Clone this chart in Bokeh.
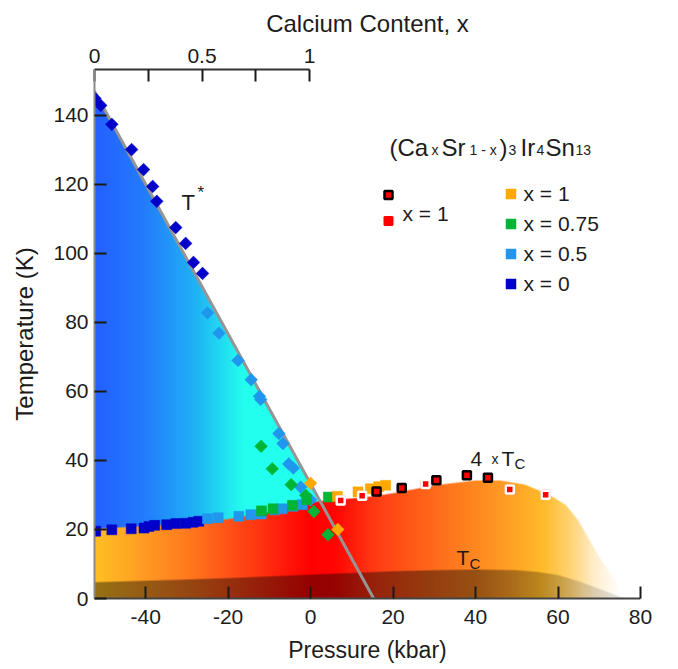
import numpy as np
from bokeh.plotting import figure
from bokeh.models import (Range1d, LinearAxis, FixedTicker, Legend, LegendItem, Label,
                          CustomJSTickFormatter)
from bokeh.core.properties import value
from bokeh.embed import file_html
from bokeh.resources import INLINE

# ---------------- data ----------------
# T* line (gray)
tstar_P = [-52.4, 15.3]
tstar_T = [147.0, 0.0]

# upper boundary of the superconducting-dome / red region (4 x Tc)
red_top_P = [-52.4, -40, -30, -20, -10, -5, 0, 5, 10, 15, 20, 30, 40, 46, 52, 58, 62, 65, 68.8, 71.3, 73.5, 75.5, 77.5]
red_top_T = [20.2, 21.0, 21.8, 23.0, 25.0, 26.5, 27.8, 28.6, 29.0, 29.6, 30.5, 32.8, 34.2, 34.2, 33.0, 30.0, 27.0, 22.5, 14.5, 9.6, 6.0, 3.0, 0.0]

# Tc dome (dark band)
tc_top_P = [-52.4, -30, -20, -10, 0, 10, 20, 30, 40, 50, 55, 60, 65, 70, 74, 76]
tc_top_T = [4.7, 5.5, 5.9, 6.4, 6.9, 7.4, 7.9, 8.2, 8.4, 8.2, 7.7, 6.8, 5.0, 2.8, 1.0, 0.0]

# x = 0 (dark blue)
x0_dia_P = [-52.3, -50.9, -48.2, -43.4, -40.5, -38.3, -37.3, -32.7, -30.3, -28.4, -26.2]
x0_dia_T = [144.9, 142.9, 137.4, 130.1, 124.3, 119.4, 115.1, 107.5, 102.9, 97.4, 94.2]
x0_sq_P = [-52.1, -48.2, -43.5, -40.4, -39.2, -37.8, -34.9, -32.7, -30.3, -28.5, -27.1]
x0_sq_T = [19.5, 19.9, 20.2, 20.4, 20.9, 21.2, 21.4, 21.7, 21.8, 22.1, 22.4]

# x = 0.5 (light blue)
x05_dia_P = [-25.0, -22.2, -17.6, -14.4, -12.4, -12.1, -7.7, -6.7, -5.3, -4.2, -2.4, 0.0]
x05_dia_T = [82.8, 76.9, 69.0, 63.4, 58.6, 57.7, 47.8, 44.9, 39.0, 37.8, 32.3, 28.6]
x05_sq_P = [-25.0, -22.4, -17.4, -14.5, -12.0, -8.7, -6.9, -4.3, -2.0]
x05_sq_T = [23.1, 23.4, 23.8, 24.3, 24.5, 25.7, 26.0, 26.7, 27.2]

# x = 0.75 (green)
x075_dia_P = [-12.0, -9.3, -4.7, -1.2, 0.8, 4.2]
x075_dia_T = [44.1, 37.6, 33.0, 29.9, 25.2, 18.5]
x075_sq_P = [-11.9, -9.1, -4.4, -1.0, 4.3]
x075_sq_T = [25.4, 26.0, 27.0, 28.6, 29.4]

# x = 1 (orange)
x1_dia_P = [0.0, 6.6]
x1_dia_T = [33.4, 20.0]
x1_sq_P = [6.5, 11.5, 14.5, 16.5, 18.2]
x1_sq_T = [29.6, 30.9, 31.8, 32.4, 32.8]

# x = 1 (red, white edge) and x = 1 (red, black edge)
red_w_P = [7.3, 12.5, 27.9, 48.3, 57.0]
red_w_T = [28.4, 29.8, 33.2, 31.6, 30.1]
red_b_P = [16.0, 22.1, 30.5, 37.9, 43.0]
red_b_T = [31.0, 32.0, 34.3, 35.7, 35.0]

# axis ticks
p_ticks = [-40, -20, 0, 20, 40, 60, 80]
t_ticks = [0, 20, 40, 60, 80, 100, 120, 140]
ca_ticks = [0, 0.5, 1]
ca_minor = [0.25, 0.75]

# ---------------- layout constants ----------------
P_MIN, P_MAX = -52.4, 80.0
T_MAX = 153.3
CA_SPAN = 52.15          # kbar per unit of calcium content (top axis)
FONT = "Liberation Sans"
TXT = "#1c1c1c"
FL, FT, FW, FH = 94, 69, 546, 529   # frame placement in page pixels

p = figure(width=678, height=669, x_range=Range1d(P_MIN, P_MAX), y_range=Range1d(0, T_MAX),
           output_backend="svg", toolbar_location=None,
           x_axis_location=None, y_axis_location=None,
           min_border_left=FL, min_border_right=678 - FL - FW, min_border_top=FT,
           min_border_bottom=669 - FT - FH)
p.grid.visible = False
p.outline_line_color = None
p.background_fill_color = "white"

# ---------------- gradient-filled regions as an RGBA image ----------------
nx, ny = FW, FH
dx = (P_MAX - P_MIN) / nx
dy = T_MAX / ny
Px = P_MIN + (np.arange(nx) + 0.5) * dx
Ty = (np.arange(ny) + 0.5) * dy
TT = np.repeat(Ty[:, None], nx, axis=1)


def cov(top):
    return np.clip((top[None, :] - TT) / dy + 0.5, 0.0, 1.0)


def ramp(stops_P, stops_rgb):
    c = np.array(stops_rgb, float)
    return np.stack([np.interp(Px, stops_P, c[:, k]) for k in range(3)], axis=-1)


blue_rgb = ramp([-52.4, -40, -28, -16],
                [(35, 95, 255), (35, 125, 252), (30, 178, 245), (35, 255, 238)])
red_rgb = ramp([-52.4, -42, -30, -18, -6, 0, 6, 16, 28, 45, 56, 60, 64, 69, 75],
               [(255, 192, 35), (255, 160, 35), (255, 122, 30), (255, 75, 22), (255, 25, 10),
                (255, 0, 0), (255, 5, 3), (255, 60, 20), (255, 100, 25), (255, 150, 35),
                (255, 185, 40), (255, 200, 80), (255, 215, 130), (255, 238, 205), (255, 255, 255)])
band_alpha = np.interp(Px, [-52.4, 40, 50, 58, 66, 76], [0.41, 0.41, 0.32, 0.24, 0.15, 0.10])

out = np.zeros((ny, nx, 3))
alpha = np.zeros((ny, nx))


def over(rgb, c):
    global out, alpha
    out = rgb[None, :, :] * c[..., None] + out * (1 - c[..., None])
    alpha = c + alpha * (1 - c)


over(blue_rgb, cov(np.interp(Px, tstar_P, tstar_T)))
over(red_rgb, cov(np.interp(Px, red_top_P, red_top_T)))
over(np.zeros((nx, 3)), cov(np.interp(Px, tc_top_P, tc_top_T)) * band_alpha[None, :])

rgb = out / np.maximum(alpha, 1e-6)[..., None]
img = np.zeros((ny, nx, 4), dtype=np.uint8)
img[..., :3] = np.clip(np.round(rgb), 0, 255).astype(np.uint8)
img[..., 3] = np.clip(np.round(alpha * 255), 0, 255).astype(np.uint8)
img32 = img.view(dtype=np.uint32).reshape((ny, nx))
p.image_rgba(image=[img32], x=P_MIN, y=0, dw=P_MAX - P_MIN, dh=T_MAX)

# T* line
p.line(tstar_P, tstar_T, line_color="#959595", line_width=3)

# ---------------- data points ----------------
DIA = np.pi / 4
C0, C05, C075, C1, CR = "#0000c8", "#2096ee", "#00b536", "#ffa800", "#ff0000"

r0s = p.scatter(x0_sq_P, x0_sq_T, marker="square", size=10, fill_color=C0, line_color=C0, line_width=0.5)
p.scatter(x0_dia_P, x0_dia_T, marker="square", angle=DIA, size=9, fill_color=C0, line_color=C0, line_width=0.5)
r05s = p.scatter(x05_sq_P, x05_sq_T, marker="square", size=10, fill_color=C05, line_color=C05, line_width=0.5)
p.scatter(x05_dia_P, x05_dia_T, marker="square", angle=DIA, size=9, fill_color=C05, line_color=C05, line_width=0.5)
r075s = p.scatter(x075_sq_P, x075_sq_T, marker="square", size=10, fill_color=C075, line_color=C075, line_width=0.5)
p.scatter(x075_dia_P, x075_dia_T, marker="square", angle=DIA, size=9, fill_color=C075, line_color=C075, line_width=0.5)
r1s = p.scatter(x1_sq_P, x1_sq_T, marker="square", size=10, fill_color=C1, line_color=C1, line_width=0.5)
p.scatter(x1_dia_P, x1_dia_T, marker="square", angle=DIA, size=9, fill_color=C1, line_color=C1, line_width=0.5)
# plain red key glyph (drawn under the white-edged symbols, used for the legend swatch)
rr_key = p.scatter(red_w_P, red_w_T, marker="square", size=8, fill_color=CR, line_color=CR, line_width=2)
p.scatter(red_w_P, red_w_T, marker="square", size=8, fill_color=CR, line_color="white", line_width=2.5)
rrb = p.scatter(red_b_P, red_b_T, marker="square", size=8, fill_color=CR, line_color="black", line_width=2.5)

# ---------------- axes ----------------
def style_axis(ax):
    ax.major_label_text_font = FONT
    ax.major_label_text_font_size = "21px"
    ax.major_label_text_color = TXT
    ax.axis_label_text_font = FONT
    ax.axis_label_text_font_style = "normal"
    ax.axis_label_text_color = TXT
    ax.major_tick_in = 12
    ax.major_tick_out = 0
    ax.minor_tick_in = 12
    ax.minor_tick_out = 0
    ax.major_tick_line_color = "#1a1a1a"
    ax.minor_tick_line_color = "#1a1a1a"
    ax.major_tick_line_width = 2
    ax.minor_tick_line_width = 2
    ax.axis_line_width = 2


fmt = CustomJSTickFormatter(code="return String(tick);")

xb = LinearAxis(ticker=FixedTicker(ticks=p_ticks, minor_ticks=[]), formatter=fmt,
                axis_label="Pressure (kbar)")
style_axis(xb)
xb.axis_label_text_font_size = "23px"
xb.axis_line_color = "#444444"
xb.major_label_standoff = 11
xb.axis_label_standoff = 10
p.add_layout(xb, "below")

yl = LinearAxis(ticker=FixedTicker(ticks=t_ticks, minor_ticks=[]), formatter=fmt,
                axis_label="Temperature (K)")
style_axis(yl)
yl.axis_label_text_font_size = "24px"
yl.axis_line_color = "#8a8a8a"
yl.major_label_standoff = 6
yl.axis_label_standoff = 12
p.add_layout(yl, "left")

p.extra_x_ranges = {"ca": Range1d(0, (P_MAX - P_MIN) / CA_SPAN)}
xt = LinearAxis(x_range_name="ca", bounds=(0, 1),
                ticker=FixedTicker(ticks=ca_ticks, minor_ticks=ca_minor), formatter=fmt,
                axis_label="Calcium Content, x")
style_axis(xt)
xt.axis_label_text_font_size = "24px"
xt.axis_line_color = "#333333"
xt.major_label_standoff = 7
xt.axis_label_standoff = 9
p.add_layout(xt, "above")

# ---------------- legends ----------------
def make_legend(items, loc, spacing, gw):
    return Legend(items=items, location=loc, orientation="vertical",
                  glyph_width=gw, glyph_height=25, label_height=25, spacing=spacing,
                  padding=0, margin=0, label_standoff=1,
                  background_fill_alpha=0, border_line_alpha=0,
                  label_text_font=FONT, label_text_font_size="21px", label_text_color=TXT)


leg_r = make_legend([LegendItem(label="x = 1", renderers=[r1s]),
                     LegendItem(label="x = 0.75", renderers=[r075s]),
                     LegendItem(label="x = 0.5", renderers=[r05s]),
                     LegendItem(label="x = 0", renderers=[r0s])], (403.5, 302), 5, 25)
p.add_layout(leg_r, "center")

leg_l = make_legend([LegendItem(label=value(" "), renderers=[rrb]),
                     LegendItem(label=value(" "), renderers=[rr_key])], (283.7, 365), 1, 20)
p.add_layout(leg_l, "center")

# ---------------- text annotations ----------------
def D(px, py):
    return (P_MIN + (px - FL) / FW * (P_MAX - P_MIN), (FT + FH - py) / FH * T_MAX)


def put(text, px, py, size, align="left", baseline="alphabetic"):
    x, y = D(px, py)
    p.add_layout(Label(x=x, y=y, text=text, text_font=FONT, text_font_size=size,
                       text_color=TXT, text_align=align, text_baseline=baseline))


# legend shared label for the two red symbols
put("x = 1", 402, 213, "21px")

# compound formula
for t, px, py, sz in [("(Ca", 389, 147, "24px"), ("x", 431, 149, "14px"), ("Sr", 441, 147, "24px"),
                      ("1 - x", 469, 149, "14px"), (")", 499, 147, "24px"), ("3", 508, 149, "14px"),
                      ("Ir", 520, 147, "24px"), ("4", 536, 149, "14px"), ("Sn", 545, 147, "24px"),
                      ("13", 575, 149, "14px")]:
    put(t, px, py, sz)

# T*
put("T", 181, 202, "22px")
put("*", 197, 192, "17px")
# 4 x Tc
put("4", 470, 458, "21px")
put("x", 491, 458, "14px")
put("T", 501, 458, "21px")
put("C", 514, 463, "15px")
# Tc
put("T", 456, 557, "21px")
put("C", 469, 563, "15px")

open("out.html", "w").write(file_html(p, INLINE))
